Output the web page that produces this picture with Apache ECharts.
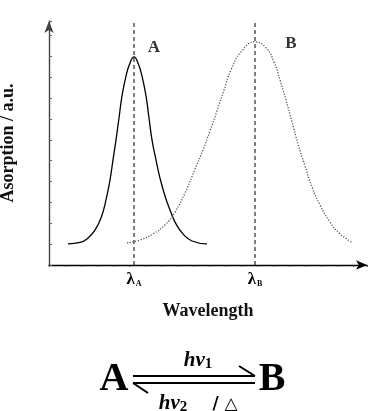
<!DOCTYPE html>
<html>
<head>
<meta charset="utf-8">
<script src="https://cdn.jsdelivr.net/npm/echarts@6/dist/echarts.min.js"></script>
<style>
  html, body { margin: 0; padding: 0; background: #fff; }
  #chart { width: 373px; height: 411px; }
</style>
</head>
<body>
<div id="chart"></div>
<script>
// wavelength (arbitrary units) and absorption (a.u.)
const aWave = [19, 31, 39, 46, 52, 57, 61, 64, 67, 70, 73, 77, 81, 85, 89, 93, 97, 100, 103, 107, 111, 116, 121, 127, 134, 143, 158];
const aAbs = [1.01, 1.08, 1.29, 1.68, 2.25, 3.12, 4.08, 5.04, 6.00, 7.05, 8.11, 9.06, 9.69, 9.98, 9.69, 9.06, 8.11, 7.05, 6.00, 5.04, 4.17, 3.31, 2.64, 1.97, 1.49, 1.15, 1.01];
const bWave = [78, 91, 104, 116, 126, 136, 146, 154, 161, 168, 175, 182, 192, 206, 217, 225, 231, 237, 243, 249, 256, 263, 271, 281, 291, 304];
const bAbs = [1.06, 1.20, 1.49, 1.92, 2.54, 3.45, 4.60, 5.52, 6.43, 7.39, 8.39, 9.35, 10.22, 10.70, 10.41, 9.74, 8.87, 7.91, 6.86, 5.80, 4.75, 3.74, 2.88, 2.06, 1.49, 1.06];

// peak positions and their tick labels
const lambdaA = 85;
const lambdaB = 206;
const tickLabels = ['{l|λ}{s|A}', '{l|λ}{s|B}'];
const guideTop = 11.67;

// curve names as printed next to the peaks
const peakNames = ['A', 'B'];
const peakSpots = [[105, 10.42], [242, 10.63]];

const serif = '"Liberation Serif", "DejaVu Serif", serif';

const chart = echarts.init(document.getElementById('chart'));

const toPairs = (xs, ys) => xs.map((x, i) => [x, ys[i]]);

const hvRich = {
  i: { fontFamily: serif, fontStyle: 'italic', fontWeight: 'bold', fontSize: 21, fill: '#000' },
  s: { fontFamily: serif, fontWeight: 'bold', fontSize: 15, fill: '#000', padding: [6, 0, 0, 0] }
};

const option = {
  animation: false,
  backgroundColor: '#fff',
  grid: { left: 49, right: 6, top: 21, bottom: 146, outerBoundsMode: 'none', containLabel: false },
  xAxis: {
    type: 'value',
    min: 0,
    max: 318,
    interval: 16,
    name: 'Wavelength',
    nameLocation: 'middle',
    nameGap: 37,
    nameTextStyle: { fontFamily: serif, fontWeight: 'bold', fontSize: 18, color: '#111' },
    axisLine: {
      show: true,
      symbol: ['none', 'arrow'],
      symbolSize: [7, 11],
      lineStyle: { color: '#000', width: 1.3 }
    },
    axisTick: { show: true, length: 2, lineStyle: { color: '#333', width: 0.8 } },
    axisLabel: {
      customValues: [lambdaA, lambdaB],
      margin: 6,
      formatter: v => (v === lambdaA ? tickLabels[0] : tickLabels[1]),
      rich: {
        l: { fontFamily: serif, fontWeight: 'bold', fontSize: 17, color: '#000' },
        s: { fontFamily: serif, fontWeight: 'bold', fontSize: 8, color: '#000', padding: [9, 0, 0, 1] }
      }
    },
    splitLine: { show: false }
  },
  yAxis: {
    type: 'value',
    min: 0,
    max: 11.7,
    interval: 1,
    name: 'Asorption / a.u.',
    nameLocation: 'middle',
    nameRotate: 90,
    nameGap: 32,
    nameTextStyle: { fontFamily: serif, fontWeight: 'bold', fontSize: 18, color: '#111' },
    axisLine: {
      show: true,
      symbol: ['none', 'arrow'],
      symbolSize: [7, 12],
      lineStyle: { color: '#444', width: 1.4 }
    },
    axisTick: { show: true, inside: true, length: 3, lineStyle: { color: '#666', width: 1 } },
    axisLabel: { show: false },
    splitLine: { show: false }
  },
  series: [
    {
      name: 'A',
      type: 'line',
      smooth: 0.5,
      symbol: 'none',
      lineStyle: { color: '#000', width: 1.3 },
      data: toPairs(aWave, aAbs),
      z: 3
    },
    {
      name: 'B',
      type: 'line',
      smooth: 0.5,
      symbol: 'none',
      lineStyle: { color: '#555', width: 1.3, type: [1.2, 1.6] },
      data: toPairs(bWave, bAbs),
      z: 3
    },
    {
      name: 'guideA',
      type: 'line',
      symbol: 'none',
      lineStyle: { color: '#000', width: 1, type: [4, 3] },
      data: [[lambdaA, 0], [lambdaA, guideTop]],
      z: 2
    },
    {
      name: 'guideB',
      type: 'line',
      symbol: 'none',
      lineStyle: { color: '#000', width: 1, type: [4, 3] },
      data: [[lambdaB, 0], [lambdaB, guideTop]],
      z: 2
    },
    {
      name: 'labels',
      type: 'scatter',
      symbolSize: 0,
      data: peakSpots.map((p, i) => ({ value: p, name: peakNames[i] })),
      label: {
        show: true,
        position: 'inside',
        formatter: p => p.name,
        fontFamily: serif,
        fontWeight: 'bold',
        fontSize: 17,
        color: '#000'
      }
    }
  ],
  graphic: [
    {
      type: 'group',
      children: [
        {
          type: 'text',
          x: 114, y: 380,
          style: { text: 'A', font: 'bold 40px ' + serif, fill: '#000', textAlign: 'center', textVerticalAlign: 'middle' }
        },
        {
          type: 'text',
          x: 272, y: 380,
          style: { text: 'B', font: 'bold 40px ' + serif, fill: '#000', textAlign: 'center', textVerticalAlign: 'middle' }
        },
        { type: 'line', shape: { x1: 133, y1: 376, x2: 255, y2: 376 }, style: { stroke: '#000', lineWidth: 2 } },
        { type: 'line', shape: { x1: 133, y1: 383, x2: 255, y2: 383 }, style: { stroke: '#000', lineWidth: 2 } },
        { type: 'line', shape: { x1: 239, y1: 366, x2: 255, y2: 376 }, style: { stroke: '#000', lineWidth: 2 } },
        { type: 'line', shape: { x1: 133, y1: 383, x2: 148, y2: 393 }, style: { stroke: '#000', lineWidth: 2 } },
        {
          type: 'text',
          x: 198, y: 361,
          style: { text: '{i|hv}{s|1}', textAlign: 'center', textVerticalAlign: 'middle', rich: hvRich }
        },
        {
          type: 'text',
          x: 173, y: 404,
          style: { text: '{i|hv}{s|2}', textAlign: 'center', textVerticalAlign: 'middle', rich: hvRich }
        },
        {
          type: 'text',
          x: 225, y: 405,
          style: { text: '/ △', font: 'bold 17px "DejaVu Sans", sans-serif', fill: '#000', textAlign: 'center', textVerticalAlign: 'middle' }
        }
      ]
    }
  ]
};

chart.setOption(option);
</script>
</body>
</html>
